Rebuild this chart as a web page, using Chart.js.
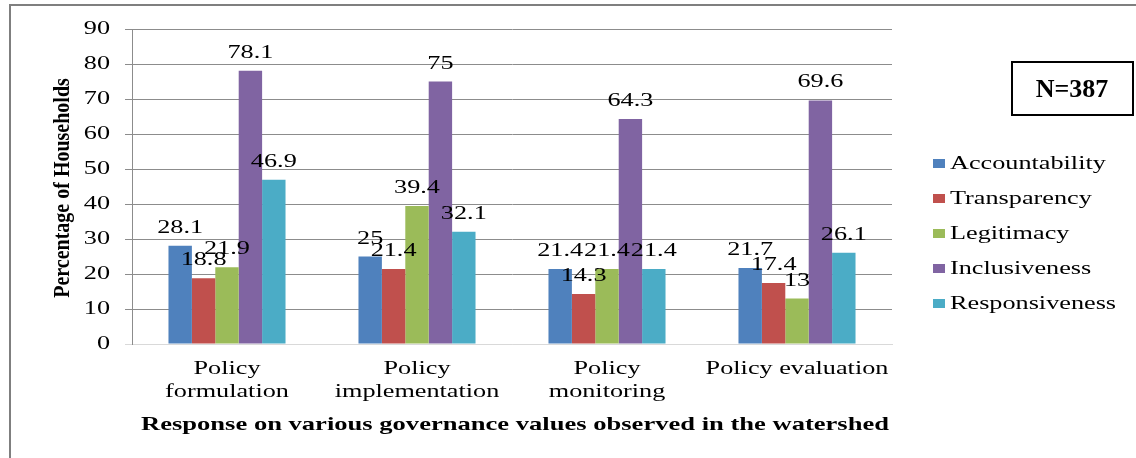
<!DOCTYPE html>
<html>
<head>
<meta charset="utf-8">
<script src="https://cdn.jsdelivr.net/npm/chart.js@4.4.0/dist/chart.umd.min.js"></script>
<style>
  html, body { margin: 0; padding: 0; background: #fff; }
  #chart { display: block; }
</style>
</head>
<body>
<canvas id="chart" width="1136" height="458"></canvas>
<script>
// Data
const categories = [["Policy", "formulation"], ["Policy", "implementation"], ["Policy", "monitoring"], "Policy evaluation"];
const seriesNames = ["Accountability", "Transparency", "Legitimacy", "Inclusiveness", "Responsiveness"];
const accountability = [28.1, 25, 21.4, 21.7];
const transparency = [18.8, 21.4, 14.3, 17.4];
const legitimacy = [21.9, 39.4, 21.4, 13];
const inclusiveness = [78.1, 75, 64.3, 69.6];
const responsiveness = [46.9, 32.1, 21.4, 26.1];
const seriesColors = ["#4F81BD", "#C0504D", "#9BBB59", "#8064A2", "#4BACC6"];
const yMin = 0, yMax = 90, yStep = 10;
const yTitle = "Percentage of Households";
const xTitle = "Response on various governance values observed in the watershed";
const sampleNote = "N=387";

const seriesValues = [accountability, transparency, legitimacy, inclusiveness, responsiveness];
const SERIF = "'Liberation Serif', 'Times New Roman', serif";
const STRETCH = 1.38;   // the original chart text is stretched sideways

const canvas = document.getElementById("chart");
const ctx = canvas.getContext("2d");

// keep the plain text functions for the texts that are not stretched
const plainFill = CanvasRenderingContext2D.prototype.fillText;
const plainMeasure = CanvasRenderingContext2D.prototype.measureText;

ctx.fillText = function(text, x, y) {
    this.save();
    this.translate(x, y);
    this.scale(STRETCH, 1);
    plainFill.call(this, text, 0, 0);
    this.restore();
};
ctx.measureText = function(text) {
    const m = plainMeasure.call(this, text);
    return { width: m.width * STRETCH };
};

const decorPlugin = {
    id: "decor",
    beforeDraw(chart) {
        const c = chart.ctx;
        c.save();
        c.strokeStyle = "#7f7f7f";
        c.lineWidth = 2;
        c.beginPath();
        c.moveTo(10, 458);
        c.lineTo(10, 5);
        c.lineTo(1136, 5);
        c.stroke();
        c.restore();
    },
    afterDatasetsDraw(chart) {
        // value labels above the bars
        const c = chart.ctx;
        c.save();
        c.font = "19px " + SERIF;
        c.fillStyle = "#000";
        c.textAlign = "center";
        c.textBaseline = "alphabetic";
        chart.data.datasets.forEach((ds, i) => {
            chart.getDatasetMeta(i).data.forEach((bar, j) => {
                c.fillText(String(ds.data[j]), bar.x, bar.y - 13);
            });
        });
        c.restore();
    },
    afterDraw(chart) {
        const c = chart.ctx;
        c.save();
        c.fillStyle = "#000";

        // y title (glyphs a little taller across, like the original)
        c.font = "bold 20px " + SERIF;
        c.textAlign = "center";
        c.textBaseline = "middle";
        c.save();
        c.translate(63, 188);
        c.rotate(-Math.PI / 2);
        c.scale(1, 1.15);
        plainFill.call(c, yTitle, 0, 0);
        c.restore();

        // x title, spread to the width of the plot
        c.font = "bold 19px " + SERIF;
        const w0 = plainMeasure.call(c, xTitle).width;
        c.save();
        c.translate(141, 430);
        c.scale(748 / w0, 1);
        c.textAlign = "left";
        c.textBaseline = "alphabetic";
        plainFill.call(c, xTitle, 0, 0);
        c.restore();

        // legend
        c.font = "19px " + SERIF;
        c.textAlign = "left";
        c.textBaseline = "middle";
        chart.data.datasets.forEach((ds, i) => {
            const y = 163 + i * 35;
            c.fillStyle = ds.backgroundColor;
            c.fillRect(933, y - 4, 12, 9);
            c.fillStyle = "#000";
            c.fillText(ds.label, 950, y + 1);
        });

        // sample size box
        c.strokeStyle = "#000";
        c.lineWidth = 2;
        c.strokeRect(1012, 62, 121, 53);
        c.font = "bold 26px " + SERIF;
        c.textAlign = "center";
        plainFill.call(c, sampleNote, 1072, 90);
        c.restore();
    }
};

const chart = new Chart(ctx, {
    type: "bar",
    data: {
        labels: categories,
        datasets: seriesNames.map((name, i) => ({
            label: name,
            data: seriesValues[i],
            backgroundColor: seriesColors[i],
            borderWidth: 0
        }))
    },
    options: {
        responsive: false,
        animation: false,
        layout: { padding: { left: 0, right: 244, top: 29, bottom: 0 } },
        datasets: { bar: { barPercentage: 1, categoryPercentage: 0.616 } },
        plugins: {
            legend: { display: false },
            tooltip: { enabled: false }
        },
        scales: {
            x: {
                grid: { display: false, drawTicks: false },
                border: { color: "#d9d9d9", width: 1 },
                ticks: {
                    color: "#000",
                    font: { family: SERIF, size: 19, lineHeight: 1.22 },
                    padding: 13,
                    maxRotation: 0,
                    autoSkip: false
                },
                afterFit(scale) { scale.height = 114; }
            },
            y: {
                min: yMin,
                max: yMax,
                grid: {
                    color: (c) => c.tick && c.tick.value === 0 ? "#d9d9d9" : "#8c8c8c",
                    tickLength: 7
                },
                border: { color: "#8c8c8c", width: 1 },
                ticks: {
                    stepSize: yStep,
                    color: "#000",
                    font: { family: SERIF, size: 19 },
                    padding: 15
                },
                afterFit(scale) { scale.width = 132; }
            }
        }
    },
    plugins: [decorPlugin]
});
</script>
</body>
</html>
